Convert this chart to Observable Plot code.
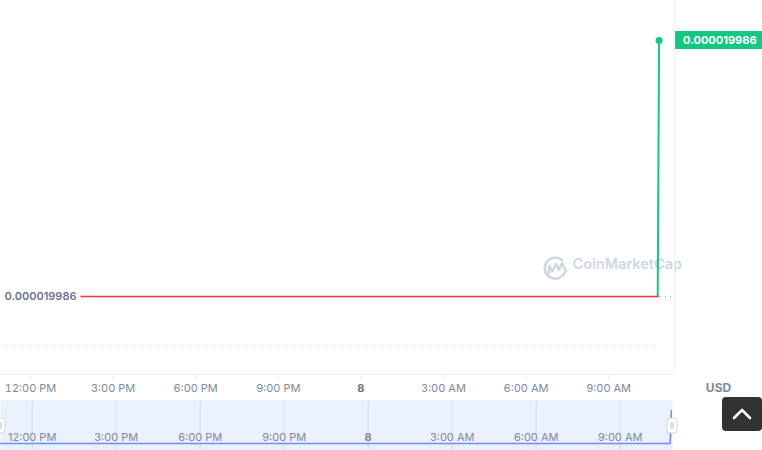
<!DOCTYPE html>
<html><head><meta charset="utf-8">
<script src="https://cdn.jsdelivr.net/npm/d3@7"></script>
<script src="https://cdn.jsdelivr.net/npm/@observablehq/plot@0.6"></script>
<style>
html,body{margin:0;padding:0;background:#fff;}
#wrap{position:relative;width:762px;height:450px;overflow:hidden;font-family:Inter,sans-serif;}
#main{position:absolute;left:0;top:0;}
#nav{position:absolute;left:0;top:400px;}
#totop{position:absolute;left:722px;top:397px;width:40px;height:34px;background:#323232;border-radius:4px;}
</style></head><body>
<div id="wrap"><div id="main"></div><div id="nav"></div>
<div id="totop"><svg width="40" height="34"><polyline points="12,21 20,13 28,21" fill="none" stroke="#fff" stroke-width="2.6" stroke-linecap="round" stroke-linejoin="round"/></svg></div>
</div>
<script>
// ---- data ----
const times = ["2024-03-07T10:52", "2024-03-08T10:47", "2024-03-08T10:50"];
const prices = [0.0000199860, 0.0000199860, 0.00001998626];
const tickTimes = ["2024-03-07T12:00", "2024-03-07T15:00", "2024-03-07T18:00", "2024-03-07T21:00",
                   "2024-03-08T00:00", "2024-03-08T03:00", "2024-03-08T06:00", "2024-03-08T09:00"];
const tickLabels = ["12:00 PM", "3:00 PM", "6:00 PM", "9:00 PM", "8", "3:00 AM", "6:00 AM", "9:00 AM"];
const gridPrices = [0.00001998595];
const currency = "USD";
const brand = "CoinMarketCap";

const data = times.map((t, i) => ({t: new Date(t), p: prices[i]}));
const ticks = tickTimes.map(d => new Date(d));
const labelOf = new Map(ticks.map((d, i) => [+d, tickLabels[i]]));
const B = prices[0], L = prices[prices.length - 1];
const last = data[data.length - 1];
const above = data.filter((d, i) => i >= data.length - 2);   // segment rising above the opening price
const below = data.slice(0, -1);                             // segment at/below the opening price

const mainX = [new Date("2024-03-07T10:54:36"), new Date("2024-03-08T11:23:36")];
const navX = [new Date("2024-03-07T10:52:06"), new Date("2024-03-08T10:52:06")];
const u = (L - B) / 256;
const mainY = [B - 78 * u, B + 296 * u];
const v = (L - B) / 33;
const navY = [B - 7 * v, B + 43 * v];

const main = Plot.plot({
  width: 762, height: 400,
  marginTop: 0, marginLeft: 0, marginRight: 88, marginBottom: 26,
  style: {fontFamily: "Inter, sans-serif", fontSize: "11px", color: "#808a9d", background: "transparent", overflow: "visible"},
  x: {type: "time", domain: mainX, ticks: ticks, tickFormat: d => labelOf.get(+d), tickSize: 5, tickPadding: 5, label: null},
  y: {domain: mainY, axis: null},
  marks: [
    Plot.text([brand], {text: d => d, frameAnchor: "bottom-right", textAnchor: "start", dx: -102, dy: -106,
      fill: "#cfd6e4", fontSize: 14.5, fontWeight: 600}),
    Plot.ruleY(gridPrices, {x1: () => data[0].t, x2: () => last.t, stroke: "#c3cad6", strokeDasharray: "1,3"}),
    Plot.ruleY([B], {stroke: "#9aa2b1", strokeDasharray: "1,4"}),
    Plot.ruleY([mainY[0]], {stroke: "#eff2f5"}),
    Plot.ruleX([mainX[1]], {stroke: "#eff2f5"}),
    Plot.line(above, {x: "t", y: "p", stroke: "#16c784", strokeWidth: 2, clip: true}),
    Plot.line(below, {x: "t", y: "p", stroke: "#ea3943", strokeWidth: 1.6, clip: true}),
    Plot.dot([last], {x: "t", y: "p", r: 3.5, fill: "#16c784"}),
    Plot.text([last], {x: "t", y: "p", text: d => d.p.toFixed(9), textAnchor: "start", dx: 24,
      fill: "#ffffff", fontWeight: 700, fontSize: 11, ariaDescription: "price-tag"}),
    Plot.text([B], {y: d => d, frameAnchor: "left", textAnchor: "start", dx: 4, text: d => d.toFixed(9),
      fill: "#6c7587", fontWeight: 600, fontSize: 11, ariaDescription: "base-tag"}),
    Plot.text([currency], {text: d => d, frameAnchor: "bottom-right", textAnchor: "middle", dx: 44, dy: 17,
      fill: "#808a9d", fontWeight: 700, fontSize: 12})
  ]
});
document.getElementById("main").appendChild(main);

const nav = Plot.plot({
  width: 762, height: 50,
  marginTop: 0, marginLeft: 0, marginBottom: 0, marginRight: 90,
  style: {fontFamily: "Inter, sans-serif", fontSize: "11px", color: "#808a9d", background: "transparent", overflow: "visible"},
  x: {type: "time", domain: navX, axis: null},
  y: {domain: navY, axis: null},
  marks: [
    Plot.frame({fill: "#ebf0fd", stroke: null}),
    Plot.ruleX(ticks, {stroke: "#d8deea"}),
    Plot.text(ticks, {x: d => d, text: d => labelOf.get(+d), dy: 12, fill: "#808a9d", fontSize: 11}),
    Plot.line(data, {x: "t", y: "p", stroke: "#6c8ff4", strokeWidth: 1.6, clip: true})
  ]
});
document.getElementById("nav").appendChild(nav);

// ---- decoration / post-processing ----
const priceText = B.toFixed(9);
function addBg(svg, pick, fill, padL, padR, h) {
  d3.select(svg).selectAll("text").filter(pick).each(function () {
    const b = this.getBBox();
    const r = d3.select(this.parentNode).insert("rect", () => this)
      .attr("x", b.x - padL).attr("width", b.width + padL + padR)
      .attr("y", b.y + b.height / 2 - h / 2).attr("height", h)
      .attr("fill", fill).attr("stroke", "none");
    const tf = this.getAttribute("transform");
    if (tf) r.attr("transform", tf);
  });
}
function inGroup(el, desc) {
  const g = el.closest("g[aria-description]");
  return g && g.getAttribute("aria-description") === desc;
}
addBg(main, function () {
  return this.textContent === priceText && (inGroup(this, "price-tag") || getComputedStyle(this).fill === "rgb(255, 255, 255)");
}, "#16c784", 8, 10, 18);
addBg(main, function () {
  return this.textContent === priceText && (inGroup(this, "base-tag") || getComputedStyle(this).fill !== "rgb(255, 255, 255)");
}, "#ffffff", 8, 4, 14);

d3.select(main).selectAll('g[aria-label="x-axis tick"] path').attr("stroke", "#e6e9ef");
d3.select(main).selectAll("text").filter(function () { return this.textContent === "8"; })
  .attr("font-weight", 700).attr("fill", "#6c7587");
d3.select(nav).selectAll("text").filter(function () { return this.textContent === "8"; })
  .attr("font-weight", 700);

// watermark logo
const logo = d3.select(main).insert("g", ":first-child").attr("fill", "none").attr("stroke", "#cfd6e4")
  .attr("stroke-width", 2.6).attr("stroke-linecap", "round").attr("stroke-linejoin", "round");
logo.append("path").attr("d", "M565,272 A10.5,10.5 0 1 1 562,260");
logo.append("path").attr("d", "M549,273 L549,266 L552.5,271 L556,264 L559,270 L562,263 L566,271");

// navigator handles
const hg = d3.select(nav).append("g");
[-5, 667].forEach(x => {
  hg.append("rect").attr("x", x).attr("y", 18).attr("width", 10).attr("height", 15).attr("rx", 3)
    .attr("fill", "#fff").attr("stroke", "#d0d6e2");
  hg.append("path").attr("d", `M${x + 4},22 V29 M${x + 6},22 V29`).attr("stroke", "#a5adbd").attr("stroke-width", 0.8);
});
</script>
</body></html>
